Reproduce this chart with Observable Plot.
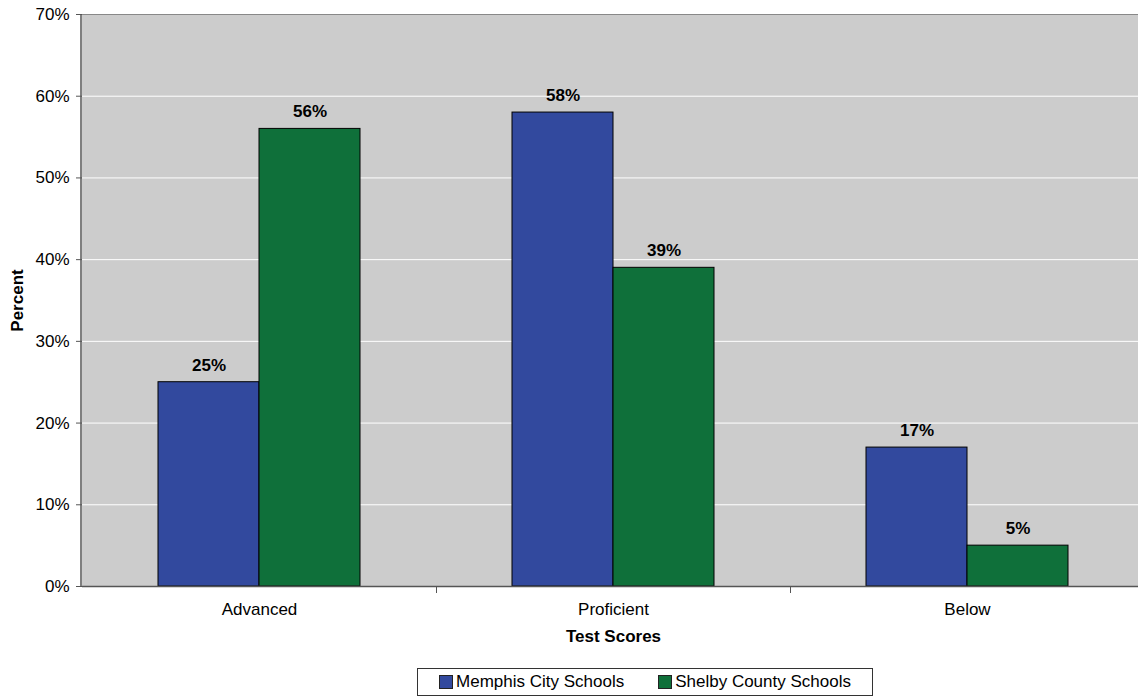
<!DOCTYPE html>
<html>
<head>
<meta charset="utf-8">
<script src="https://cdn.jsdelivr.net/npm/d3@7"></script>
<script src="https://cdn.jsdelivr.net/npm/@observablehq/plot@0.6"></script>
<style>
  body { margin: 0; background: #fff; font-family: "Liberation Sans", Arial, sans-serif; overflow: hidden; }
  #wrap { position: relative; width: 1138px; height: 696px; overflow: hidden; }
  #legend { position: absolute; left: 417px; top: 668px; width: 454px; height: 26px; border: 1px solid #333;
    display: flex; align-items: center; justify-content: center; gap: 34px; font-size: 17px; color: #000; box-sizing: content-box; }
  #legend .item { display: flex; align-items: center; gap: 3px; }
  #legend .sw { width: 12px; height: 12px; border: 1px solid #222; display: inline-block; }
  svg [aria-label="fx-axis label"], svg [aria-label="y-axis label"] { font-weight: bold; }
  svg { overflow: hidden; }
</style>
</head>
<body>
<div id="wrap"><div id="chart"></div><div id="legend"></div></div>
<script>
const categories = ["Advanced", "Proficient", "Below"];
const seriesNames = ["Memphis City Schools", "Shelby County Schools"];
const memphis = [25, 58, 17];
const shelby = [56, 39, 5];
const colors = ["#32499e", "#0f703a"];
const yTicks = [0, 10, 20, 30, 40, 50, 60, 70];

const data = [];
categories.forEach((c, i) => {
  data.push({category: c, series: seriesNames[0], value: memphis[i]});
  data.push({category: c, series: seriesNames[1], value: shelby[i]});
});

const chart = Plot.plot({
  width: 1138,
  height: 660,
  marginLeft: 81,
  marginRight: -7,
  marginTop: 14,
  marginBottom: 74,
  style: {fontFamily: '"Liberation Sans", Arial, sans-serif', fontSize: "17px", color: "#000", background: "#fff"},
  fx: {domain: categories, paddingInner: 0, paddingOuter: 0},
  x: {domain: seriesNames, paddingInner: 0, paddingOuter: 0.746, axis: null},
  y: {domain: [0, 70]},
  color: {domain: seriesNames, range: colors},
  marks: [
    Plot.frame({fill: "#cccccc", stroke: "#cccccc", strokeWidth: 1}),
    Plot.gridY(yTicks, {stroke: "#ffffff", strokeOpacity: 1, strokeWidth: 1}),
    Plot.ruleY([70], {stroke: "#888888"}),
    Plot.barY(data, {fx: "category", x: "series", y: "value", fill: "series", stroke: "#000", strokeWidth: 1}),
    Plot.text(data, {fx: "category", x: "series", y: "value", text: d => d.value + "%", dy: -17, fontWeight: "bold", fontSize: 17, fill: "#000"}),
    Plot.ruleY([0], {stroke: "#555", strokeWidth: 1.5}),
    Plot.frame({anchor: "right", stroke: "#555", insetTop: 572, insetBottom: -6}),
    Plot.axisY(yTicks, {tickFormat: d => d + "%", tickSize: 6, tickPadding: 7, stroke: "#555", label: "Percent", labelArrow: "none", labelAnchor: "center", labelOffset: 72, fontSize: 17}),
    Plot.axisFx({anchor: "bottom", tickSize: 0, tickPadding: 16, label: "Test Scores", labelArrow: "none", labelAnchor: "center", labelOffset: 55, fontSize: 17})
  ]
});
document.getElementById("chart").appendChild(chart);

// y-axis line on left edge
const svg = d3.select(chart);
svg.append("line").attr("x1", 81).attr("x2", 81).attr("y1", 14).attr("y2", 586).attr("stroke", "#555").attr("stroke-width", 1.5);

const legend = d3.select("#legend");
seriesNames.forEach((s, i) => {
  const it = legend.append("div").attr("class", "item");
  it.append("span").attr("class", "sw").style("background", colors[i]);
  it.append("span").text(s);
});
</script>
</body>
</html>
